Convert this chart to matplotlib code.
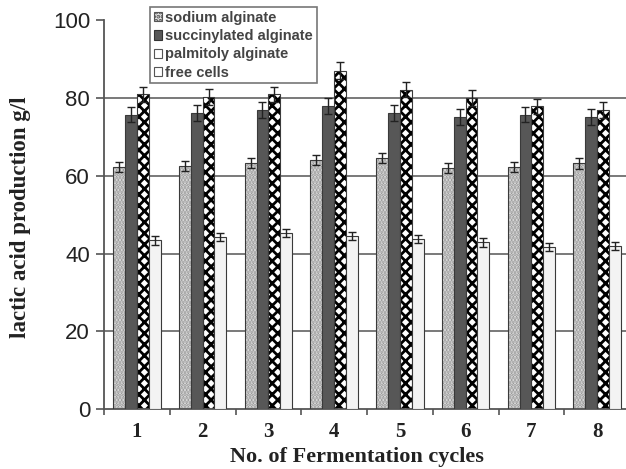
import numpy as np
import matplotlib
matplotlib.use("Agg")
import matplotlib.pyplot as plt
from matplotlib.patches import Patch

# data
cycles = ["1", "2", "3", "4", "5", "6", "7", "8"]
sodium = [62.3, 62.5, 63.3, 64.2, 64.7, 62.0, 62.3, 63.2]
succinylated = [75.8, 76.2, 77.0, 78.0, 76.2, 75.1, 75.8, 75.1]
palmitoyl = [81.0, 80.3, 81.0, 87.1, 82.2, 80.1, 77.9, 77.0]
free_cells = [43.4, 44.3, 45.3, 44.5, 43.8, 42.9, 41.7, 41.9]

sodium_err = [1.3, 1.3, 1.2, 1.3, 1.3, 1.3, 1.2, 1.3]
succinylated_err = [2.0, 2.0, 2.0, 2.0, 2.0, 2.0, 2.0, 2.0]
palmitoyl_err = [2.0, 2.0, 2.0, 2.2, 2.0, 2.0, 2.0, 2.0]
free_err = [1.1, 1.1, 1.1, 1.1, 1.1, 1.1, 1.1, 1.1]

labels = ["sodium alginate", "succinylated alginate", "palmitoly alginate", "free cells"]
grid_values = [20, 40, 60, 80]

plt.rcParams["hatch.linewidth"] = 2.0

fig = plt.figure(figsize=(6.26, 4.69), dpi=100)
ax = fig.add_axes([104 / 626, 60 / 469, 526 / 626, 388.5 / 469])

x = np.arange(1, len(cycles) + 1)
w = 0.18
offsets = [-1.5 * w, -0.5 * w, 0.5 * w, 1.5 * w]
edge = "#3a3a3a"

for g in grid_values:
    ax.axhline(g, color="#6e6e6e", lw=1.3, zorder=0)

# sodium alginate - dotted light gray
ax.bar(x + offsets[0], sodium, w, color="#e6e6e6", edgecolor="#9a9a9a",
       hatch=".....", lw=0, zorder=2)
ax.bar(x + offsets[0], sodium, w, fill=False, edgecolor=edge, lw=0.8, zorder=3)

# succinylated alginate - dark gray
ax.bar(x + offsets[1], succinylated, w, color="#575757", edgecolor=edge,
       lw=0.8, zorder=3)

# palmitoly alginate - black diamonds
ax.bar(x + offsets[2], palmitoyl, w, color="white", edgecolor="black",
       hatch="xxx", lw=0, zorder=2)
ax.bar(x + offsets[2], palmitoyl, w, fill=False, edgecolor=edge, lw=0.8, zorder=3)

# free cells - very light
ax.bar(x + offsets[3], free_cells, w, color="#f3f3f3", edgecolor=edge,
       lw=0.8, zorder=3)

for off, vals, errs in zip(offsets, [sodium, succinylated, palmitoyl, free_cells],
                           [sodium_err, succinylated_err, palmitoyl_err, free_err]):
    ax.errorbar(x + off, vals, yerr=errs, fmt="none", ecolor="#222222",
                elinewidth=1, capsize=3, capthick=1, zorder=4)

ax.set_xlim(0.5, 8.5)
ax.set_ylim(0, 100)
ax.set_yticks([0, 20, 40, 60, 80, 100])
ax.set_xticks(x)
ax.set_xticklabels(cycles, fontfamily="Liberation Serif", fontweight="bold",
                   fontsize=15, color="#222222")
ax.set_xticks(np.arange(0.5, 9, 1), minor=True)
ax.tick_params(axis="x", which="major", length=0, pad=9)
ax.tick_params(axis="x", which="minor", length=4, color="#555555", width=1.2)
ax.tick_params(axis="y", length=6, color="#555555", width=1.2, labelsize=16,
               labelcolor="#222222", pad=4)
for lab in ax.get_yticklabels():
    lab.set_fontfamily("Liberation Sans")

for s in ["top", "right"]:
    ax.spines[s].set_visible(False)
for s in ["left", "bottom"]:
    ax.spines[s].set_color("#555555")
    ax.spines[s].set_linewidth(1.3)

ax.set_ylabel("lactic acid production g/l", fontfamily="Liberation Serif",
              fontweight="bold", fontsize=16.5, color="#222222")
ax.yaxis.set_label_coords(-(104 - 31) / 526, 0.493)
ax.set_xlabel("No. of Fermentation cycles", fontfamily="Liberation Serif",
              fontweight="bold", fontsize=16, color="#222222")
ax.xaxis.set_label_coords((357 - 104) / 526, -(447 - 409) / 388.5)

handles = [
    Patch(facecolor="#e6e6e6", edgecolor="#555555", hatch="....", lw=0.8),
    Patch(facecolor="#575757", edgecolor="#333333", lw=0.8),
    Patch(facecolor="white", edgecolor="#555555", lw=0.8),
    Patch(facecolor="white", edgecolor="#555555", lw=0.8),
]
leg = fig.legend(handles, labels, loc="upper left",
                 bbox_to_anchor=(150 / 626, 1 - 7 / 469), borderaxespad=0,
                 frameon=True, fancybox=False, edgecolor="#555555",
                 prop={"family": "Liberation Sans", "size": 10.5, "weight": "bold"},
                 handlelength=0.6, handleheight=0.6, handletextpad=0.2,
                 labelspacing=0.3, borderpad=0.25)
leg.get_frame().set_linewidth(1.2)
for t in leg.get_texts():
    t.set_color("#444444")
leg.set_zorder(10)

fig.savefig("out.png", dpi=100)
